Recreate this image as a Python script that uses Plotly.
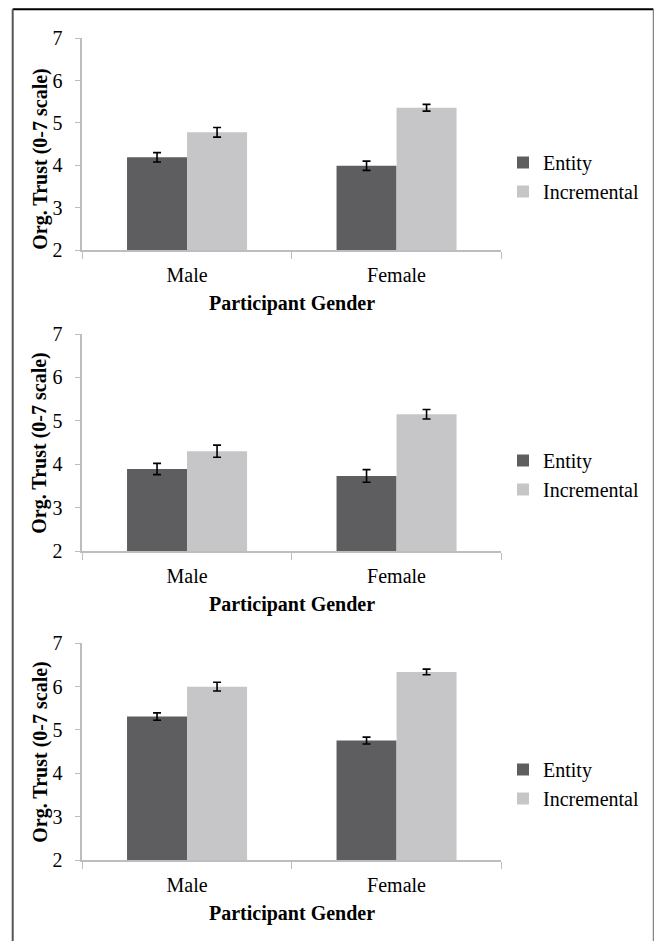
import plotly.graph_objects as go

W, H = 655, 941

categories = ["Male", "Female"]
series_names = ["Entity", "Incremental"]
y_ticks = [2, 3, 4, 5, 6, 7]

# Panel 1
p1_entity = [4.19, 3.99]
p1_entity_err = [0.11, 0.11]
p1_incremental = [4.78, 5.36]
p1_incremental_err = [0.115, 0.08]
# Panel 2
p2_entity = [3.89, 3.73]
p2_entity_err = [0.13, 0.145]
p2_incremental = [4.30, 5.15]
p2_incremental_err = [0.14, 0.11]
# Panel 3
p3_entity = [5.31, 4.755]
p3_entity_err = [0.085, 0.08]
p3_incremental = [6.00, 6.34]
p3_incremental_err = [0.10, 0.065]

x_title = "Participant Gender"
y_title = "Org. Trust (0-7 scale)"

panels = [
    (p1_entity, p1_entity_err, p1_incremental, p1_incremental_err),
    (p2_entity, p2_entity_err, p2_incremental, p2_incremental_err),
    (p3_entity, p3_entity_err, p3_incremental, p3_incremental_err),
]

colors = {"Entity": "#5e5e60", "Incremental": "#c6c6c8"}
FONT = "Liberation Serif"
AXIS_GRAY = "#bdbdbd"

def px_x(v):
    return v / W

def px_y(v):
    return 1 - v / H

# plot-area pixel layout (top, bottom) for each panel
panel_px = [(38.3, 250.0), (334.0, 551.0), (643.3, 860.0)]
x_left, x_right = 82.3, 501.3
ytitle_centers = [159, 443, 752]
legend_tops = [143, 441, 750]

fig = go.Figure()
layout = dict(
    width=W, height=H, autosize=False,
    margin=dict(l=0, r=0, t=0, b=0, autoexpand=False),
    paper_bgcolor="white", plot_bgcolor="white",
    barmode="group", bargap=0.427, bargroupgap=0,
    font=dict(family=FONT, size=20, color="black"),
    annotations=[], shapes=[],
)

for i, (ent, ent_e, inc, inc_e) in enumerate(panels):
    n = i + 1
    xa = "x" if n == 1 else f"x{n}"
    ya = "y" if n == 1 else f"y{n}"
    lg = "legend" if n == 1 else f"legend{n}"
    for name, vals, errs in [("Entity", ent, ent_e), ("Incremental", inc, inc_e)]:
        fig.add_trace(go.Bar(
            x=categories, y=vals, name=name,
            marker=dict(color=colors[name], line=dict(width=0)),
            error_y=dict(type="data", array=errs, visible=True,
                         color="black", thickness=1.6, width=4),
            xaxis=xa, yaxis=ya, legend=lg, legendgroup=f"{name}{n}",
        ))
    top, bot = panel_px[i]
    layout[f"xaxis{'' if n == 1 else n}"] = dict(
        domain=[px_x(x_left), px_x(x_right)], anchor=ya,
        type="category", tickson="boundaries", automargin=False,
        showline=True, linecolor=AXIS_GRAY, linewidth=1.5,
        ticks="outside", ticklen=7, tickcolor=AXIS_GRAY, tickwidth=1,
        showgrid=False, zeroline=False,
        tickfont=dict(family=FONT, size=20, color="black"),
        ticklabelstandoff=6,
    )
    layout[f"yaxis{'' if n == 1 else n}"] = dict(
        domain=[px_y(bot), px_y(top)], anchor=xa, automargin=False,
        range=[2, 7], tickvals=y_ticks,
        showline=True, linecolor=AXIS_GRAY, linewidth=1.5,
        ticks="outside", ticklen=6, tickcolor=AXIS_GRAY, tickwidth=1,
        showgrid=False, zeroline=False,
        tickfont=dict(family=FONT, size=20, color="black"),
        ticklabelstandoff=8,
    )
    layout[lg] = dict(
        x=px_x(503), y=px_y(legend_tops[i]), xanchor="left", yanchor="top",
        font=dict(family=FONT, size=20, color="black"),
        bgcolor="rgba(0,0,0,0)", tracegroupgap=10, traceorder="normal",
    )
    layout["annotations"].append(dict(
        text=f"<b>{x_title}</b>", xref="paper", yref="paper",
        x=px_x((x_left + x_right) / 2), y=px_y(bot + 53),
        xanchor="center", yanchor="middle", showarrow=False,
        font=dict(family=FONT, size=20, color="black"),
    ))
    layout["annotations"].append(dict(
        text=f"<b>{y_title}</b>", xref="paper", yref="paper",
        x=px_x(39.7), y=px_y(ytitle_centers[i]), textangle=-90,
        xanchor="center", yanchor="middle", showarrow=False,
        font=dict(family=FONT, size=20, color="black"),
    ))

# outer frame
layout["shapes"] += [
    dict(type="line", xref="paper", yref="paper",
         x0=px_x(12.7), x1=px_x(653.3), y0=px_y(9.3), y1=px_y(9.3),
         line=dict(color="black", width=2)),
    dict(type="line", xref="paper", yref="paper",
         x0=px_x(12.7), x1=px_x(12.7), y0=px_y(9.3), y1=-0.02,
         line=dict(color="#555555", width=2)),
    dict(type="line", xref="paper", yref="paper",
         x0=px_x(653.3), x1=px_x(653.3), y0=px_y(9.3), y1=-0.02,
         line=dict(color="#666666", width=1)),
]

fig.update_layout(**layout)
fig.write_html(
    "out.html",
    config={"displayModeBar": False},
    post_script="document.body.style.margin='0';document.body.style.overflow='hidden';",
)
